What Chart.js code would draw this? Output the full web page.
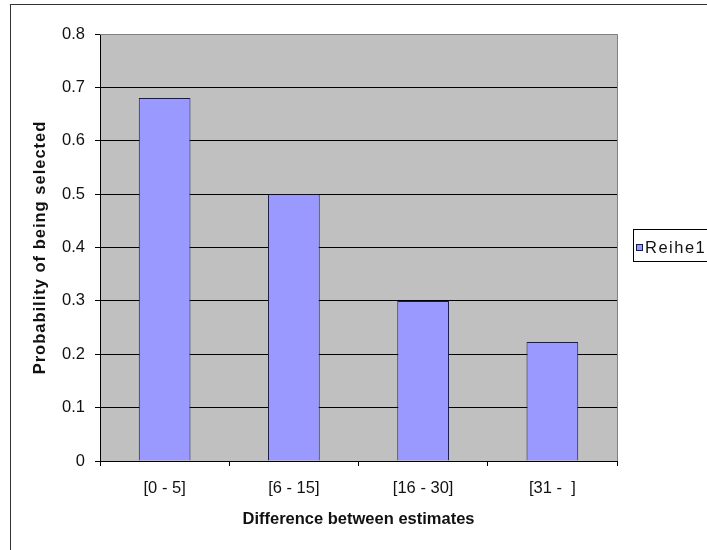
<!DOCTYPE html>
<html>
<head>
<meta charset="utf-8">
<script src="https://cdn.jsdelivr.net/npm/chart.js@4/dist/chart.umd.min.js"></script>
<style>
  html, body { margin: 0; padding: 0; background: #ffffff; }
  canvas { display: block; }
</style>
</head>
<body>
<canvas id="chart" width="707" height="550"></canvas>
<script>
// Data
const categories = ['[0 - 5]', '[6 - 15]', '[16 - 30]', '[31 -  ]'];
const seriesName = 'Reihe1';
const seriesValues = [0.68, 0.5, 0.3, 0.223];
const yTickLabels = ['0', '0.1', '0.2', '0.3', '0.4', '0.5', '0.6', '0.7', '0.8'];
const xTitle = 'Difference between estimates';
const yTitle = 'Probability of being selected';

const FONT = 'Arial, "Liberation Sans", sans-serif';
Chart.defaults.font.family = FONT;
Chart.defaults.color = '#111';

// Gray plot background, outer frame, plot border, y title and the series legend
const frame = {
  id: 'frame',
  beforeDraw(chart) {
    const { ctx, chartArea: a } = chart;
    ctx.save();
    ctx.fillStyle = '#ffffff';
    ctx.fillRect(0, 0, chart.width, chart.height);
    ctx.strokeStyle = '#333333';
    ctx.lineWidth = 1;
    ctx.strokeRect(10.5, 4.5, 900, 700);
    ctx.fillStyle = '#c0c0c0';
    ctx.fillRect(a.left, a.top, a.right - a.left, a.bottom - a.top);
    ctx.restore();
  },
  beforeDatasetsDraw(chart) {
    const { ctx, chartArea: a } = chart;
    ctx.save();
    ctx.strokeStyle = '#808080';
    ctx.lineWidth = 1;
    ctx.beginPath();
    ctx.moveTo(a.left, a.top + 0.5);
    ctx.lineTo(a.right + 0.5, a.top + 0.5);
    ctx.lineTo(a.right + 0.5, a.bottom);
    ctx.stroke();
    ctx.restore();
  },
  afterDraw(chart) {
    const { ctx, chartArea: a } = chart;
    const ds = chart.data.datasets[0];
    ctx.save();
    // rotated y-axis title
    ctx.translate(40, (a.top + a.bottom) / 2);
    ctx.rotate(-Math.PI / 2);
    ctx.font = 'bold 16.5px ' + FONT;
    ctx.letterSpacing = '1px';
    ctx.fillStyle = '#111';
    ctx.textAlign = 'center';
    ctx.textBaseline = 'middle';
    ctx.fillText(yTitle, 0, 0);
    ctx.restore();

    ctx.save();
    ctx.strokeStyle = '#000';
    ctx.lineWidth = 1;
    ctx.fillStyle = '#fff';
    ctx.fillRect(633.5, 229.5, 90, 32);
    ctx.strokeRect(633.5, 229.5, 90, 32);
    ctx.fillStyle = ds.backgroundColor;
    ctx.fillRect(636.5, 244.5, 6, 6);
    ctx.strokeStyle = ds.borderColor;
    ctx.strokeRect(636.5, 244.5, 6, 6);
    ctx.fillStyle = '#111';
    ctx.font = '16.5px ' + FONT;
    ctx.letterSpacing = '1.5px';
    ctx.textBaseline = 'middle';
    ctx.textAlign = 'left';
    ctx.fillText(ds.label, 645, 248);
    ctx.restore();
  }
};

new Chart(document.getElementById('chart'), {
  type: 'bar',
  data: {
    labels: categories,
    datasets: [{
      label: seriesName,
      data: seriesValues,
      backgroundColor: '#9999ff',
      borderColor: '#1a1a4a',
      borderWidth: 1,
      barPercentage: 0.4,
      categoryPercentage: 1.0
    }]
  },
  options: {
    responsive: false,
    animation: false,
    devicePixelRatio: 1,
    layout: { padding: { top: 34, right: 90, left: 0, bottom: 0 } },
    plugins: {
      legend: { display: false },
      tooltip: { enabled: false }
    },
    scales: {
      x: {
        afterFit(scale) { scale.height = 89; },
        grid: {
          offset: true,
          drawOnChartArea: false,
          drawTicks: true,
          tickLength: 5,
          color: '#000',
          tickColor: '#000'
        },
        border: { color: '#000', width: 1 },
        ticks: {
          padding: 13,
          maxRotation: 0,
          autoSkip: false,
          color: '#111',
          font: { size: 16.5 }
        },
        title: {
          display: true,
          text: xTitle,
          color: '#111',
          font: { size: 16.5, weight: 'bold' },
          padding: { top: 0, bottom: 21 }
        }
      },
      y: {
        min: 0,
        max: 0.8,
        afterFit(scale) { scale.width = 100; },
        grid: {
          tickLength: 5,
          color: (c) => (c.tick && Math.abs(c.tick.value - 0.8) < 1e-9) ? '#808080' : '#000',
          tickColor: '#000',
          lineWidth: 1
        },
        border: { color: '#000', width: 1 },
        ticks: {
          stepSize: 0.1,
          padding: 10,
          color: '#111',
          font: { size: 16.5 },
          callback: (v, i) => yTickLabels[i]
        },
        title: { display: false }
      }
    }
  },
  plugins: [frame]
});
</script>
</body>
</html>
